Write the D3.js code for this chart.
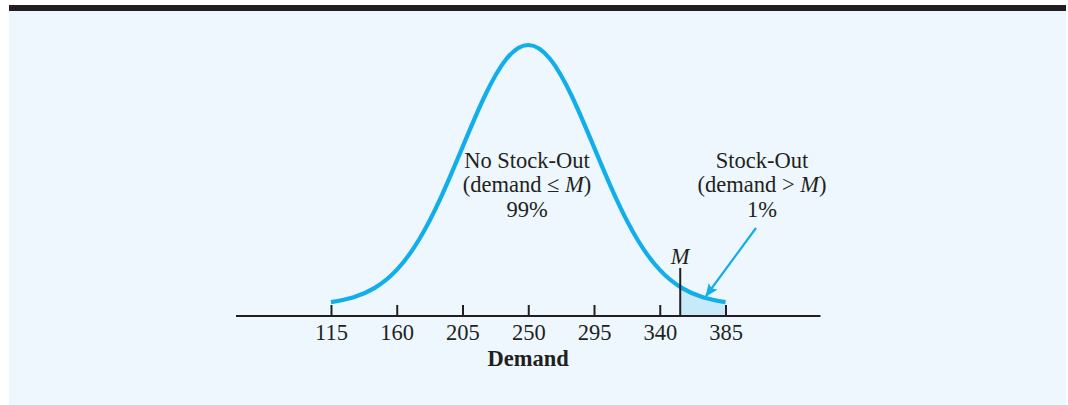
<!DOCTYPE html>
<html>
<head>
<meta charset="utf-8">
<script src="https://cdn.jsdelivr.net/npm/d3@7"></script>
<style>
  body { margin: 0; background: #fff; }
  svg { display: block; }
  text { font-family: "Liberation Serif", "Times New Roman", serif; fill: #231f20; }
</style>
</head>
<body>
<div id="chart"></div>
<script>
// demand values along the curve and relative heights
const demandPts = [115, 130, 145, 160, 175, 190, 205, 220, 235, 250, 265, 280, 295, 310, 325, 340, 355, 370, 385];
const heightPts = [0.011, 0.029, 0.066, 0.135, 0.249, 0.411, 0.607, 0.801, 0.946, 1.0, 0.946, 0.801, 0.607, 0.411, 0.249, 0.135, 0.066, 0.029, 0.011];
const tickValues = [115, 160, 205, 250, 295, 340, 385];
const mValue = 354;
const noStockLines = ["No Stock-Out", "(demand ≤ M)", "99%"];
const stockLines = ["Stock-Out", "(demand > M)", "1%"];

const W = 1068, H = 405;
const blue = "#12aeea";
const shade = "#c8e9f8";
const ink = "#231f20";
const fs = "22.5px";

const svg = d3.select("#chart").append("svg")
  .attr("width", W).attr("height", H);

// panel background + top bar
svg.append("rect").attr("x", 9).attr("y", 11).attr("width", 1057).attr("height", H - 11).attr("fill", "#eef7fd");
svg.append("rect").attr("x", 9).attr("y", 5).attr("width", 1057).attr("height", 6).attr("fill", ink);

const x = d3.scaleLinear().domain([50, 450]).range([236, 820.5]);
const y = d3.scaleLinear().domain([0, 1]).range([305, 45]);
const axisY = 316;

const pts = demandPts.map((d, i) => [d, heightPts[i]]);

// shaded tail between M and 385
const defs = svg.append("defs");
defs.append("clipPath").attr("id", "tail")
  .append("rect")
  .attr("x", x(mValue)).attr("y", 0)
  .attr("width", x(385) - x(mValue)).attr("height", axisY);

const area = d3.area()
  .x(d => x(d[0]))
  .y0(axisY)
  .y1(d => y(d[1]))
  .curve(d3.curveNatural);

svg.append("path")
  .attr("d", area(pts))
  .attr("fill", shade)
  .attr("clip-path", "url(#tail)");

// axis
const axis = d3.axisBottom(x).tickValues(tickValues).tickSize(0).tickPadding(0);
const gAxis = svg.append("g").attr("transform", `translate(0,${axisY})`).call(axis);
gAxis.select(".domain").remove();
gAxis.append("line")
  .attr("x1", 236).attr("x2", 820.5)
  .attr("stroke", ink).attr("stroke-width", 2);
gAxis.selectAll(".tick").append("line")
  .attr("y1", 0).attr("y2", -11)
  .attr("stroke", ink).attr("stroke-width", 2);
gAxis.selectAll(".tick text")
  .attr("y", 16)
  .attr("dy", "0.35em")
  .style("font-size", fs)
  .style("font-family", "'Liberation Serif', serif")
  .attr("fill", ink);

svg.append("text")
  .attr("x", x(250)).attr("y", 358)
  .attr("dy", "0.35em")
  .attr("text-anchor", "middle")
  .style("font-size", fs)
  .style("font-weight", "bold")
  .text("Demand");

// curve
const line = d3.line()
  .x(d => x(d[0]))
  .y(d => y(d[1]))
  .curve(d3.curveNatural);

svg.append("path")
  .attr("d", line(pts))
  .attr("fill", "none")
  .attr("stroke", blue)
  .attr("stroke-width", 4.2);

// M marker
svg.append("line")
  .attr("x1", x(mValue)).attr("x2", x(mValue))
  .attr("y1", 268).attr("y2", axisY)
  .attr("stroke", ink).attr("stroke-width", 2);
svg.append("text")
  .attr("x", x(mValue)).attr("y", 256)
  .attr("dy", "0.35em")
  .attr("text-anchor", "middle")
  .style("font-size", fs)
  .style("font-style", "italic")
  .text("M");

// labels
function block(lines, cx) {
  lines.forEach((s, i) => {
    const t = svg.append("text")
      .attr("x", cx).attr("y", 160 + i * 24.5)
      .attr("dy", "0.35em")
      .attr("text-anchor", "middle")
      .style("font-size", fs);
    if (s.includes("M)")) {
      const k = s.indexOf("M)");
      t.append("tspan").text(s.slice(0, k));
      t.append("tspan").style("font-style", "italic").text("M");
      t.append("tspan").text(")");
    } else {
      t.text(s);
    }
  });
}
block(noStockLines, 527);
block(stockLines, 762);

// arrow
defs.append("marker")
  .attr("id", "head")
  .attr("viewBox", "0 0 12 10")
  .attr("refX", 11).attr("refY", 5)
  .attr("markerWidth", 14).attr("markerHeight", 11)
  .attr("markerUnits", "userSpaceOnUse")
  .attr("orient", "auto")
  .append("path").attr("d", "M0,0 L12,5 L0,10 L2.5,5 z").attr("fill", blue);

svg.append("line")
  .attr("x1", 756).attr("y1", 228)
  .attr("x2", 706).attr("y2", 296)
  .attr("stroke", blue).attr("stroke-width", 2.2)
  .attr("marker-end", "url(#head)");
</script>
</body>
</html>
